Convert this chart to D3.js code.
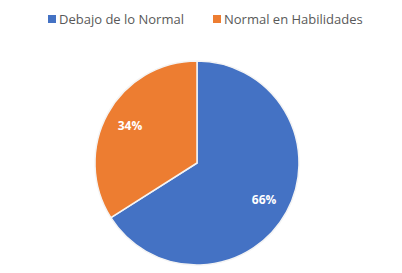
<!DOCTYPE html>
<html>
<head>
<meta charset="utf-8">
<script src="https://cdn.jsdelivr.net/npm/d3@7"></script>
<style>
  body { margin: 0; background: #fff; }
  text { font-family: "Open Sans", "Liberation Sans", sans-serif; }
</style>
</head>
<body>
<div id="chart"></div>
<script>
const FRAME_WIDTH = 402;
const FRAME_HEIGHT = 273;

const CATEGORIES = ["Debajo de lo Normal", "Normal en Habilidades"];
const VALUES = [66, 34];
const LABELS = ["66%", "34%"];
const COLORS = ["#4472C4", "#ED7D31"];

const CENTER = {x: 197, y: 163};
const RADIUS = 102;

const FRAME = d3.select("#chart")
  .append("svg")
    .attr("width", FRAME_WIDTH)
    .attr("height", FRAME_HEIGHT);

const COLOR_SCALE = d3.scaleOrdinal()
  .domain(CATEGORIES)
  .range(COLORS);

const data = CATEGORIES.map((c, i) => ({cat: c, value: VALUES[i], label: LABELS[i]}));

const pie = d3.pie().sort(null).value(d => d.value);
const arc = d3.arc().innerRadius(0).outerRadius(RADIUS);
const labelArc = d3.arc().innerRadius(RADIUS * 0.75).outerRadius(RADIUS * 0.75);

const g = FRAME.append("g")
  .attr("transform", "translate(" + CENTER.x + "," + CENTER.y + ")");

const arcs = pie(data);

g.selectAll("path")
  .data(arcs)
  .enter()
  .append("path")
    .attr("d", arc)
    .attr("fill", d => COLOR_SCALE(d.data.cat))
    .attr("stroke", "#f4f4f4")
    .attr("stroke-width", 1.5);

// percentage labels
g.selectAll("text.pct")
  .data(arcs)
  .enter()
  .append("text")
    .attr("class", "pct")
    .attr("transform", d => {
      const c = labelArc.centroid(d);
      return "translate(" + c[0] + "," + c[1] + ")";
    })
    .attr("text-anchor", "middle")
    .attr("dy", "0.35em")
    .attr("fill", "#fff")
    .attr("font-weight", "bold")
    .attr("font-size", "12px")
    .text(d => d.data.label);

// legend
const legendX = [48, 213];
const legend = FRAME.selectAll("g.legend")
  .data(data)
  .enter()
  .append("g")
    .attr("class", "legend")
    .attr("transform", (d, i) => "translate(" + legendX[i] + ",19)");

legend.append("rect")
  .attr("x", 0)
  .attr("y", -4)
  .attr("width", 8)
  .attr("height", 8)
  .attr("fill", d => COLOR_SCALE(d.cat));

legend.append("text")
  .attr("x", 11)
  .attr("dy", "0.35em")
  .attr("fill", "#595959")
  .attr("font-size", "13px")
  .text(d => d.cat);
</script>
</body>
</html>
